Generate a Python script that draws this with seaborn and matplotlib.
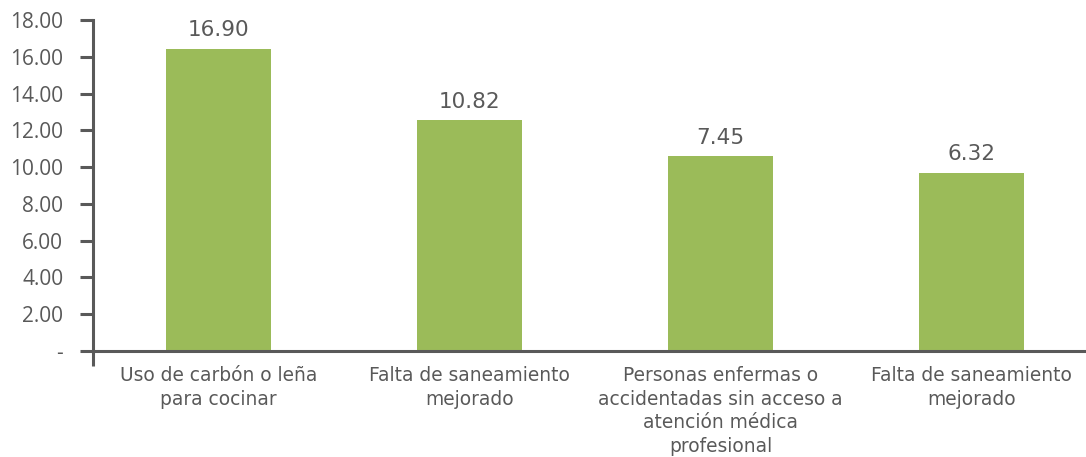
# encoding:utf-8
# Gráfico de barras: privaciones (reproducción)
import pandas as pd
import matplotlib
matplotlib.use('Agg')
import matplotlib.pyplot as plt
import seaborn as sns

# datos
categorias = ['Uso de carbón o leña\npara cocinar',
              'Falta de saneamiento\nmejorado',
              'Personas enfermas o\naccidentadas sin acceso a\natención médica\nprofesional',
              'Falta de saneamiento\nmejorado']
alturas = [16.45, 12.55, 10.6, 9.7]
etiquetas = ['16.90', '10.82', '7.45', '6.32']
yticks = [0, 2, 4, 6, 8, 10, 12, 14, 16, 18]

gris = '#595959'
verde = '#9BBB59'

sns.set_style('white')
plt.rcParams['font.family'] = ['Open Sans', 'DejaVu Sans']

df = pd.DataFrame({'pos': [str(i) for i in range(len(alturas))], 'valor': alturas})

fig = plt.figure(figsize=(10.86, 4.57), dpi=100)
ax = fig.add_axes([93 / 1086, 106 / 457, 1004 / 1086, 331 / 457])

sns.barplot(data=df, x='pos', y='valor', color=verde, saturation=1, width=0.42,
            edgecolor='none', ax=ax)

ax.set_xlim(-0.5, 3.5)
ax.set_ylim(0, 18)
ax.set_xlabel('')
ax.set_ylabel('')

# eje y
ax.set_yticks(yticks)
ax.set_yticklabels(['-'] + ['%.2f' % v for v in yticks[1:]])
ax.tick_params(axis='y', direction='out', length=9.5, width=2.2, color=gris,
               labelcolor=gris, labelsize=15, pad=12, left=True)

# eje x (etiquetas más anchas, como en el original)
ax.set_xticks(range(len(categorias)))
ax.set_xticklabels(categorias, linespacing=1.33, family='DejaVu Sans')
ax.tick_params(axis='x', length=0, labelcolor=gris, labelsize=13.4, pad=10.5)
ax.set_xticks([-0.5], minor=True)
ax.tick_params(axis='x', which='minor', direction='out', length=11, width=2.2,
               color=gris, bottom=True)

for lado in ['top', 'right']:
    ax.spines[lado].set_visible(False)
for lado in ['left', 'bottom']:
    ax.spines[lado].set_color(gris)
    ax.spines[lado].set_linewidth(2.2)

# etiquetas de datos
for i, (h, txt) in enumerate(zip(alturas, etiquetas)):
    ax.annotate(txt, (i, h), xytext=(0, 6), textcoords='offset points',
                ha='center', va='bottom', fontsize=15.5, color=gris,
                family='DejaVu Sans')

fig.savefig('out.png', dpi=100)
